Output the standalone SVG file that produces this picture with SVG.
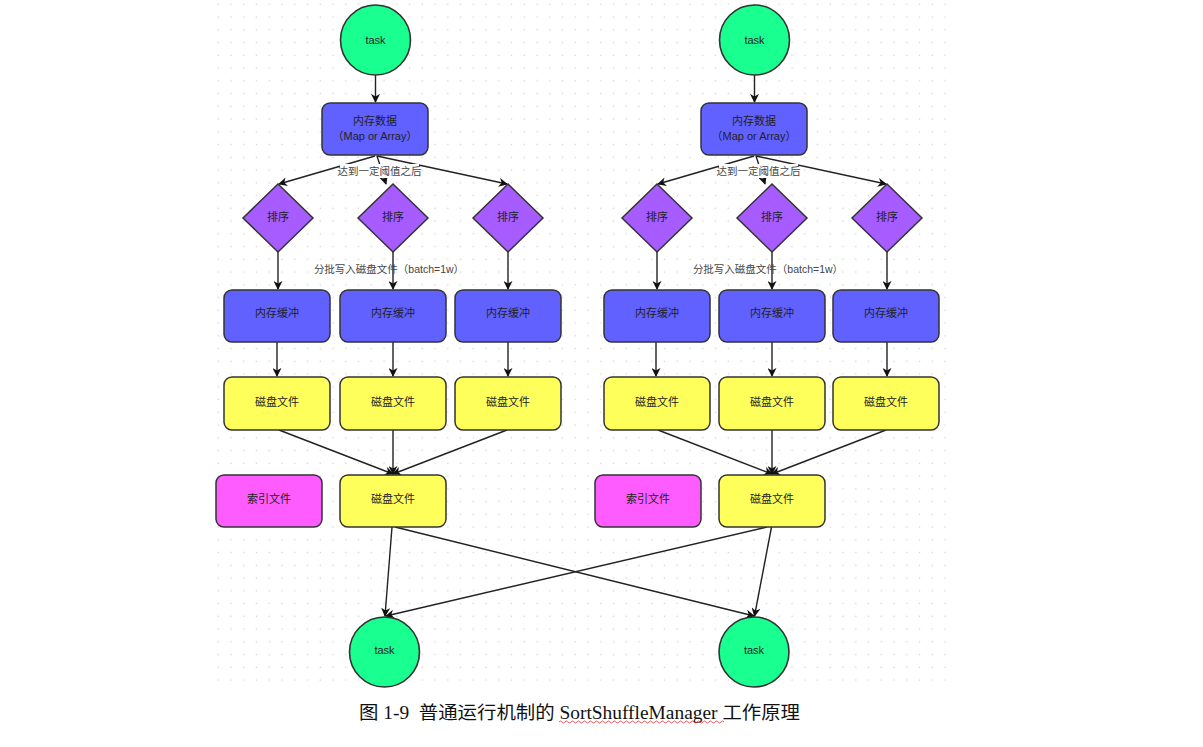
<svg xmlns="http://www.w3.org/2000/svg" width="1203" height="747" viewBox="0 0 1203 747">
<defs>
<pattern id="grid" x="212" y="-2" width="12.75" height="12.75" patternUnits="userSpaceOnUse">
<rect x="5.6" y="5.6" width="1.4" height="1.4" fill="#d6d6d6"/>
</pattern>
<marker id="arr" viewBox="0 0 10 10" refX="9" refY="5" markerWidth="9" markerHeight="9" markerUnits="userSpaceOnUse" orient="auto">
<path d="M0,0 L10,5 L0,10 L3,5 z" fill="#111"/>
</marker>
<style>
.task{fill:#19ff90;stroke:#333;stroke-width:1.6}
.blue{fill:#6161ff;stroke:#333;stroke-width:1.5}
.dia{fill:#a65cff;stroke:#333;stroke-width:1.5}
.yel{fill:#ffff5c;stroke:#333;stroke-width:1.5}
.mag{fill:#ff5cff;stroke:#333;stroke-width:1.5}
.t{font-family:"Liberation Sans","Noto Sans CJK SC",sans-serif;font-size:11px;fill:#222;text-anchor:middle;dominant-baseline:central}
.lbl{font-family:"Liberation Sans","Noto Sans CJK SC",sans-serif;font-size:10.5px;fill:#444;text-anchor:middle;dominant-baseline:central}
.c{fill:none;stroke:#222;stroke-width:1.4;marker-end:url(#arr)}
</style>
</defs>
<rect width="1203" height="747" fill="#fff"/>
<rect x="212" y="0" width="734" height="690" fill="url(#grid)"/>

<g id="connectors">
<line class="c" x1="375.5" y1="75" x2="375.5" y2="102"/>
<line class="c" x1="375" y1="156" x2="279" y2="184"/>
<line class="c" x1="377" y1="156" x2="386" y2="184"/>
<line class="c" x1="377" y1="156" x2="507" y2="184"/>
<line class="c" x1="278" y1="252" x2="278" y2="289"/>
<line class="c" x1="393" y1="252" x2="393" y2="289"/>
<line class="c" x1="508" y1="252" x2="508" y2="289"/>
<line class="c" x1="277" y1="342" x2="277" y2="376"/>
<line class="c" x1="393" y1="342" x2="393" y2="376"/>
<line class="c" x1="508" y1="342" x2="508" y2="376"/>
<line class="c" x1="279" y1="430" x2="393" y2="474"/>
<line class="c" x1="393" y1="430" x2="393" y2="474"/>
<line class="c" x1="507" y1="430" x2="393" y2="474"/>

<line class="c" x1="754.5" y1="75" x2="754.5" y2="102"/>
<line class="c" x1="754" y1="156" x2="658" y2="184"/>
<line class="c" x1="756" y1="156" x2="765" y2="184"/>
<line class="c" x1="756" y1="156" x2="886" y2="184"/>
<line class="c" x1="657" y1="252" x2="657" y2="289"/>
<line class="c" x1="772" y1="252" x2="772" y2="289"/>
<line class="c" x1="887" y1="252" x2="887" y2="289"/>
<line class="c" x1="656" y1="342" x2="656" y2="376"/>
<line class="c" x1="772" y1="342" x2="772" y2="376"/>
<line class="c" x1="887" y1="342" x2="887" y2="376"/>
<line class="c" x1="658" y1="430" x2="772" y2="474"/>
<line class="c" x1="772" y1="430" x2="772" y2="474"/>
<line class="c" x1="886" y1="430" x2="772" y2="474"/>

<line class="c" x1="392" y1="527" x2="385" y2="616"/>
<line class="c" x1="395" y1="527" x2="754" y2="616"/>
<line class="c" x1="771.5" y1="527" x2="754.5" y2="616"/>
<line class="c" x1="767" y1="527" x2="386" y2="616"/>

<rect x="340" y="164" width="79" height="14" fill="#fff"/>
<text class="lbl" x="379.5" y="171">达到一定阈值之后</text>
<text class="lbl" x="389" y="269">分批写入磁盘文件（batch=1w）</text>
<rect x="719" y="164" width="79" height="14" fill="#fff"/>
<text class="lbl" x="758.5" y="171">达到一定阈值之后</text>
<text class="lbl" x="768" y="269">分批写入磁盘文件（batch=1w）</text>
</g>

<g id="task-top-left"><circle class="task" cx="375.5" cy="40" r="35"/><text class="t" x="375.5" y="40">task</text></g>
<g id="mem-left"><rect class="blue" x="322" y="103" width="106" height="52" rx="8"/><text class="t" x="375" y="121">内存数据</text><text class="t" x="375" y="136">（Map or Array）</text></g>
<g id="sort-l1"><polygon class="dia" points="278,184 313,218 278,252 243,218"/><text class="t" x="278" y="217">排序</text></g>
<g id="sort-l2"><polygon class="dia" points="393,184 428,218 393,252 358,218"/><text class="t" x="393" y="217">排序</text></g>
<g id="sort-l3"><polygon class="dia" points="508,184 543,218 508,252 473,218"/><text class="t" x="508" y="217">排序</text></g>
<g id="buf-l1"><rect class="blue" x="224" y="290" width="106" height="52" rx="8"/><text class="t" x="277" y="313">内存缓冲</text></g>
<g id="buf-l2"><rect class="blue" x="340" y="290" width="106" height="52" rx="8"/><text class="t" x="393" y="313">内存缓冲</text></g>
<g id="buf-l3"><rect class="blue" x="455" y="290" width="106" height="52" rx="8"/><text class="t" x="508" y="313">内存缓冲</text></g>
<g id="disk-l1"><rect class="yel" x="224" y="377" width="106" height="53" rx="8"/><text class="t" x="277" y="402">磁盘文件</text></g>
<g id="disk-l2"><rect class="yel" x="340" y="377" width="106" height="53" rx="8"/><text class="t" x="393" y="402">磁盘文件</text></g>
<g id="disk-l3"><rect class="yel" x="455" y="377" width="106" height="53" rx="8"/><text class="t" x="508" y="402">磁盘文件</text></g>
<g id="index-left"><rect class="mag" x="216" y="475" width="106" height="52" rx="8"/><text class="t" x="269" y="499">索引文件</text></g>
<g id="disk-left-merged"><rect class="yel" x="340" y="475" width="106" height="52" rx="8"/><text class="t" x="393" y="499">磁盘文件</text></g>

<g id="task-top-right"><circle class="task" cx="754.5" cy="40" r="35"/><text class="t" x="754.5" y="40">task</text></g>
<g id="mem-right"><rect class="blue" x="701" y="103" width="106" height="52" rx="8"/><text class="t" x="754" y="121">内存数据</text><text class="t" x="754" y="136">（Map or Array）</text></g>
<g id="sort-r1"><polygon class="dia" points="657,184 692,218 657,252 622,218"/><text class="t" x="657" y="217">排序</text></g>
<g id="sort-r2"><polygon class="dia" points="772,184 807,218 772,252 737,218"/><text class="t" x="772" y="217">排序</text></g>
<g id="sort-r3"><polygon class="dia" points="887,184 922,218 887,252 852,218"/><text class="t" x="887" y="217">排序</text></g>
<g id="buf-r1"><rect class="blue" x="604" y="290" width="106" height="52" rx="8"/><text class="t" x="657" y="313">内存缓冲</text></g>
<g id="buf-r2"><rect class="blue" x="719" y="290" width="106" height="52" rx="8"/><text class="t" x="772" y="313">内存缓冲</text></g>
<g id="buf-r3"><rect class="blue" x="833" y="290" width="106" height="52" rx="8"/><text class="t" x="886" y="313">内存缓冲</text></g>
<g id="disk-r1"><rect class="yel" x="604" y="377" width="106" height="53" rx="8"/><text class="t" x="657" y="402">磁盘文件</text></g>
<g id="disk-r2"><rect class="yel" x="719" y="377" width="106" height="53" rx="8"/><text class="t" x="772" y="402">磁盘文件</text></g>
<g id="disk-r3"><rect class="yel" x="833" y="377" width="106" height="53" rx="8"/><text class="t" x="886" y="402">磁盘文件</text></g>
<g id="index-right"><rect class="mag" x="595" y="475" width="106" height="52" rx="8"/><text class="t" x="648" y="499">索引文件</text></g>
<g id="disk-right-merged"><rect class="yel" x="719" y="475" width="106" height="52" rx="8"/><text class="t" x="772" y="499">磁盘文件</text></g>

<g id="task-bottom-left"><circle class="task" cx="384.5" cy="652" r="35"/><text class="t" x="384.5" y="650">task</text></g>
<g id="task-bottom-right"><circle class="task" cx="754" cy="652" r="35"/><text class="t" x="754" y="650">task</text></g>

<g id="caption">
<text x="359" y="719" font-family="'Liberation Serif','Noto Sans CJK SC',serif" font-size="18" fill="#111" style="white-space:pre" textLength="441" lengthAdjust="spacingAndGlyphs">图 1-9  普通运行机制的 SortShuffleManager 工作原理</text>
<path d="M559,722 q1.5,-2 3,0 t3,0 t3,0 t3,0 t3,0 t3,0 t3,0 t3,0 t3,0 t3,0 t3,0 t3,0 t3,0 t3,0 t3,0 t3,0 t3,0 t3,0 t3,0 t3,0 t3,0 t3,0 t3,0 t3,0 t3,0 t3,0 t3,0 t3,0 t3,0 t3,0 t3,0 t3,0 t3,0 t3,0 t3,0 t3,0 t3,0 t3,0 t3,0 t3,0 t3,0 t3,0 t3,0 t3,0 t3,0 t3,0 t3,0 t3,0 t3,0 t3,0 t3,0 t3,0 t3,0 t3,0 t3,0" fill="none" stroke="#e03030" stroke-width="0.8"/>
</g>
</svg>
